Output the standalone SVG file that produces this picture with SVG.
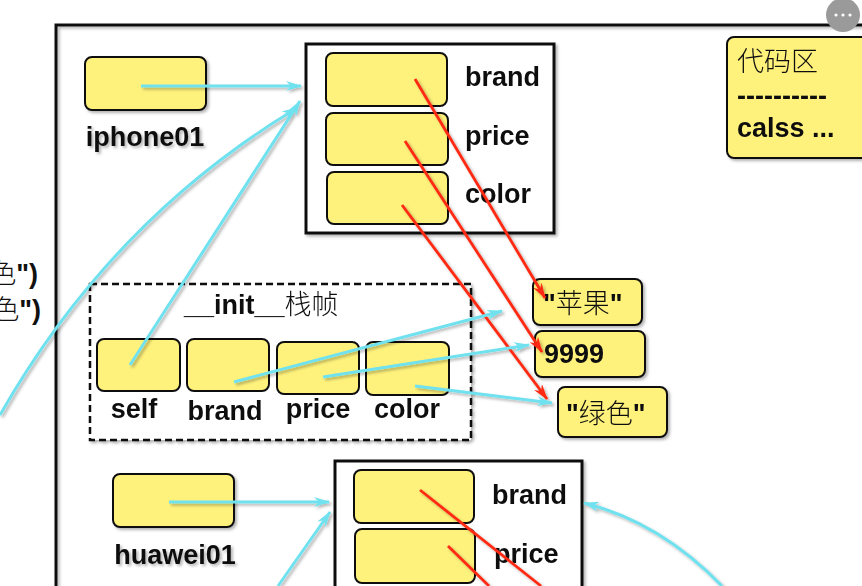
<svg xmlns="http://www.w3.org/2000/svg" width="862" height="586" viewBox="0 0 862 586">
<defs>
<filter id="sh" x="-10%" y="-10%" width="130%" height="130%">
<feDropShadow dx="2" dy="2" stdDeviation="1.5" flood-color="#000" flood-opacity="0.3"/>
</filter>
<marker id="ac" viewBox="0 0 16 10" refX="15" refY="5" markerWidth="16" markerHeight="10" markerUnits="userSpaceOnUse" orient="auto">
<path d="M0,0 L16,5 L0,10 L5,5 z" fill="#6fe1ee"/>
</marker>
<marker id="ar" viewBox="0 0 16 10" refX="15" refY="5" markerWidth="16" markerHeight="10" markerUnits="userSpaceOnUse" orient="auto">
<path d="M0,0 L16,5 L0,10 L5,5 z" fill="#ff2a12"/>
</marker>
</defs>
<style>
.frame{fill:#fff;stroke:#111;stroke-width:3}
.cell{fill:#fff27c;stroke:#111;stroke-width:2}
.lb{font-family:"Liberation Sans",Arial,sans-serif;font-weight:bold;font-size:27px;fill:#111}
.cj{font-family:"Liberation Sans","Noto Sans CJK SC",sans-serif;font-size:27px;font-weight:300;fill:#111}
.b{font-weight:bold}
.cy{fill:none;stroke:#6fe1ee;stroke-width:3;marker-end:url(#ac)}
.rd{fill:none;stroke:#ff2a12;stroke-width:2.8;marker-end:url(#ar)}
.rdn{fill:none;stroke:#ff2a12;stroke-width:2.8}
</style>
<rect width="862" height="586" fill="#fff"/>
<g id="left-text">
<text class="cj" x="38" y="283" text-anchor="end">色<tspan class="b">")</tspan></text>
<text class="cj" x="41" y="319" text-anchor="end">色<tspan class="b">")</tspan></text>
</g>
<g id="outer" filter="url(#sh)">
<rect x="56" y="25" width="900" height="700" fill="none" stroke="#111" stroke-width="3"/>
</g>
<g id="code-area" filter="url(#sh)">
<rect class="cell" x="727" y="37" width="160" height="121" rx="7"/>
<text class="cj" x="737" y="71">代码区</text>
<text class="lb" x="737" y="105">----------</text>
<text class="lb" x="737" y="137">calss ...</text>
</g>
<g id="iphone01" filter="url(#sh)">
<rect class="cell" x="85" y="57" width="121" height="53" rx="7"/>
<text class="lb" x="145" y="146" text-anchor="middle">iphone01</text>
</g>
<g id="obj1" filter="url(#sh)">
<rect class="frame" x="306" y="44" width="248" height="189"/>
<rect class="cell" x="326" y="53" width="121" height="53" rx="7"/>
<rect class="cell" x="326" y="113" width="122" height="52" rx="7"/>
<rect class="cell" x="327" y="172" width="121" height="52" rx="7"/>
<text class="lb" x="465" y="86">brand</text>
<text class="lb" x="465" y="145">price</text>
<text class="lb" x="465" y="203">color</text>
</g>
<g id="init-frame" filter="url(#sh)">
<rect x="90" y="284" width="381" height="156" fill="#fff" stroke="#111" stroke-width="2.5" stroke-dasharray="7,4"/>
<text class="cj" x="184" y="314"><tspan class="b">__init__</tspan>栈帧</text>
<rect class="cell" x="97" y="339" width="83" height="52" rx="7"/>
<rect class="cell" x="187" y="339" width="82" height="52" rx="7"/>
<rect class="cell" x="277" y="342" width="82" height="52" rx="7"/>
<rect class="cell" x="366" y="342" width="83" height="53" rx="7"/>
<text class="lb" x="134" y="418" text-anchor="middle">self</text>
<text class="lb" x="225" y="420" text-anchor="middle">brand</text>
<text class="lb" x="318" y="418" text-anchor="middle">price</text>
<text class="lb" x="407" y="418" text-anchor="middle">color</text>
</g>
<g id="val-brand" filter="url(#sh)">
<rect class="cell" x="533" y="279" width="109" height="46" rx="7"/>
<text class="cj" x="543" y="313"><tspan class="b">"</tspan>苹果<tspan class="b">"</tspan></text>
</g>
<g id="val-price" filter="url(#sh)">
<rect class="cell" x="535" y="331" width="110" height="46" rx="7"/>
<text class="lb" x="544" y="363">9999</text>
</g>
<g id="val-color" filter="url(#sh)">
<rect class="cell" x="558" y="387" width="109" height="50" rx="7"/>
<text class="cj" x="566" y="423"><tspan class="b">"</tspan>绿色<tspan class="b">"</tspan></text>
</g>
<g id="huawei01" filter="url(#sh)">
<rect class="cell" x="113" y="474" width="121" height="53" rx="7"/>
<text class="lb" x="175" y="564" text-anchor="middle">huawei01</text>
</g>
<g id="obj2" filter="url(#sh)">
<rect class="frame" x="335" y="461" width="247" height="200"/>
<rect class="cell" x="354" y="470" width="120" height="53" rx="7"/>
<rect class="cell" x="355" y="529" width="120" height="54" rx="7"/>
<text class="lb" x="492" y="504">brand</text>
<text class="lb" x="494" y="563">price</text>
</g>
<g id="connectors" filter="url(#sh)">
<path class="cy" d="M141,86 L301,86"/>
<path class="cy" d="M130,365 L300,101"/>
<path class="cy" d="M0,415 Q111,220 297,108"/>
<path class="rd" d="M415,79 L545,298"/>
<path class="rd" d="M405,141 L542,352"/>
<path class="rd" d="M402,205 L547,399"/>
<path class="cy" d="M234,382 L502,311"/>
<path class="cy" d="M323,377 L529,345"/>
<path class="cy" d="M415,386 L552,403"/>
<path class="cy" d="M169,502 L329,502"/>
<path class="cy" d="M278,586 L330,512"/>
<path class="rdn" d="M420,490 L541,586"/>
<path class="rdn" d="M448,546 L489,586"/>
<path class="cy" d="M722,586 Q660,522 584,503"/>
</g>
<g id="ui-button">
<circle cx="843" cy="15" r="17" fill="#9a9a9a"/>
<circle cx="836" cy="15" r="1.6" fill="#fff"/>
<circle cx="843" cy="15" r="1.6" fill="#fff"/>
<circle cx="850" cy="15" r="1.6" fill="#fff"/>
</g>
</svg>
